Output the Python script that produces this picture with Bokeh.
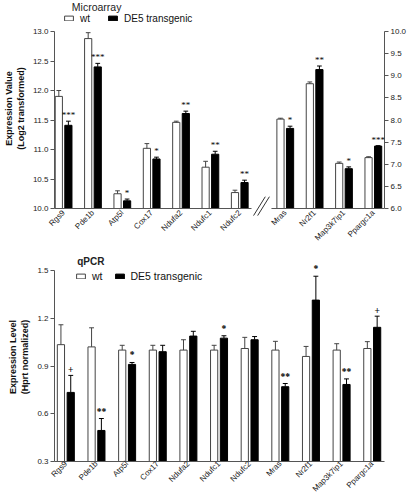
import numpy as np
from bokeh.plotting import figure
from bokeh.models import (Range1d, LinearAxis, FixedTicker, ColumnDataSource, LabelSet, Label,
                          Legend, LegendItem, Arrow, NumeralTickFormatter)
from bokeh.layouts import column
from bokeh.embed import file_html
from bokeh.resources import INLINE

# ---------------- data ----------------
ma_genes_left = ["Rgs9", "Pde1b", "Atp5l", "Cox17", "Ndufa2", "Ndufc1", "Ndufc2"]
ma_wt_left = [11.90, 12.88, 10.25, 11.02, 11.46, 10.70, 10.27]
ma_wt_left_err = [0.10, 0.10, 0.05, 0.08, 0.02, 0.10, 0.04]
ma_de5_left = [11.41, 12.40, 10.13, 10.84, 11.61, 10.92, 10.44]
ma_de5_left_err = [0.07, 0.06, 0.03, 0.03, 0.04, 0.05, 0.04]
ma_sig_left = ["***", "***", "*", "*", "**", "**", "**"]

ma_genes_right = ["Mras", "Nr2f1", "Map3k7ip1", "Ppargc1a"]
ma_wt_right = [8.02, 8.82, 7.02, 7.15]
ma_wt_right_err = [0.02, 0.04, 0.03, 0.02]
ma_de5_right = [7.81, 9.14, 6.90, 7.41]
ma_de5_right_err = [0.05, 0.08, 0.04, 0.01]
ma_sig_right = ["*", "**", "*", "***"]

qpcr_genes = ["Rgs9", "Pde1b", "Atp5l", "Cox17", "Ndufa2", "Ndufc1", "Ndufc2",
              "Mras", "Nr2f1", "Map3k7ip1", "Ppargc1a"]
qpcr_wt = [1.034, 1.02, 1.00, 1.00, 1.00, 1.00, 1.01, 1.00, 0.96, 1.00, 1.01]
qpcr_wt_err = [0.125, 0.12, 0.03, 0.03, 0.065, 0.03, 0.07, 0.055, 0.063, 0.04, 0.043]
qpcr_de5 = [0.734, 0.495, 0.91, 0.99, 1.088, 1.075, 1.065, 0.77, 1.314, 0.784, 1.143]
qpcr_de5_err = [0.107, 0.075, 0.012, 0.04, 0.03, 0.015, 0.02, 0.02, 0.15, 0.035, 0.07]
qpcr_sig = ["+", "**", "*", "", "", "*", "", "**", "*", "**", "+"]

ma_left_ticks = [10.0, 10.5, 11.0, 11.5, 12.0, 12.5, 13.0]
ma_right_ticks = [6.0, 6.5, 7.0, 7.5, 8.0, 8.5, 9.0, 9.5, 10.0]
qpcr_ticks = [0.3, 0.6, 0.9, 1.2, 1.5]

FONT = "Liberation Sans"
AX = "#555555"
TXT = "#222222"
WT_LINE = "#444444"


def style_axis(ax):
    ax.axis_line_color = AX
    ax.major_tick_line_color = AX
    ax.minor_tick_line_color = None
    ax.major_tick_out = 4
    ax.major_tick_in = 0
    ax.major_label_text_font = FONT
    ax.major_label_text_font_size = "8px"
    ax.major_label_text_color = TXT
    ax.axis_label_text_font = FONT
    ax.axis_label_text_font_style = "bold"
    ax.axis_label_text_font_size = "9px"
    ax.axis_label_text_color = "#111111"


def bars(p, xs, vals, errs, offset, width, bottom, color, line, cap, y_range_name="default"):
    x = [v + offset for v in xs]
    r = p.vbar(x=x, top=vals, bottom=bottom, width=width, fill_color=color,
               line_color=line, line_width=1, y_range_name=y_range_name)
    tops = [v + e for v, e in zip(vals, errs)]
    p.segment(x0=x, y0=vals, x1=x, y1=tops, line_color=line, line_width=1, y_range_name=y_range_name)
    p.segment(x0=[v - cap for v in x], y0=tops, x1=[v + cap for v in x], y1=tops,
              line_color=line, line_width=1, y_range_name=y_range_name)
    return r, x, tops


def legend(renderers, loc, fs, spacing):
    return Legend(items=[LegendItem(label="wt", renderers=[renderers[0]]),
                         LegendItem(label="DE5 transgenic", renderers=[renderers[1]])],
                  orientation="horizontal", location=loc, glyph_width=11, glyph_height=6,
                  label_text_font=FONT, label_text_font_size=fs, label_standoff=6, spacing=spacing,
                  padding=0, margin=0, border_line_color=None, background_fill_alpha=0,
                  label_height=8, label_width=5, label_text_color="#111111")


# ---------------- top: microarray ----------------
xl = list(range(len(ma_genes_left)))
xr = [len(ma_genes_left) + 0.55 + j for j in range(len(ma_genes_right))]
off, bw, cap = 0.163, 0.245, 0.08
ppu_l, ppu_r = 177 / 3.0, 177 / 4.0      # pixels per unit of each y scale
top_pad, bot_pad = 31, 8

p1 = figure(width=417, height=252, output_backend="svg", toolbar_location=None,
            x_range=Range1d(-0.31, 10.93),
            y_range=Range1d(10.0 - bot_pad / ppu_l, 13.0 + top_pad / ppu_l),
            min_border_left=49, min_border_top=0, min_border_bottom=36, min_border_right=23)
p1.extra_y_ranges = {"right": Range1d(6.0 - bot_pad / ppu_r, 10.0 + top_pad / ppu_r)}
p1.outline_line_color = None
p1.grid.visible = False

r_wt, xw, tw = bars(p1, xl, ma_wt_left, ma_wt_left_err, -off, bw, 10.0, "white", WT_LINE, cap)
r_de, xd, td = bars(p1, xl, ma_de5_left, ma_de5_left_err, off, bw, 10.0, "black", "black", cap)
bars(p1, xr, ma_wt_right, ma_wt_right_err, -off, bw, 6.0, "white", WT_LINE, cap, "right")
_, xd2, td2 = bars(p1, xr, ma_de5_right, ma_de5_right_err, off, bw, 6.0, "black", "black", cap, "right")

src_l = ColumnDataSource(dict(x=xd, y=td, t=ma_sig_left))
src_r = ColumnDataSource(dict(x=xd2, y=td2, t=ma_sig_right))
for s, rn in ((src_l, "default"), (src_r, "right")):
    p1.add_layout(LabelSet(x="x", y="y", text="t", source=s, y_range_name=rn, y_offset=1,
                           text_align="center", text_baseline="bottom", text_font=FONT,
                           text_font_size="9px", text_color="black"))

p1.yaxis.ticker = FixedTicker(ticks=ma_left_ticks)
p1.yaxis.formatter = NumeralTickFormatter(format="0.0")
p1.yaxis.axis_label = "Expression Value\n(Log2 transformed)"
p1.yaxis.bounds = (10.0, 13.0)
rax = LinearAxis(y_range_name="right", ticker=FixedTicker(ticks=ma_right_ticks),
                 formatter=NumeralTickFormatter(format="0.0"), bounds=(6.0, 10.0))
p1.add_layout(rax, "right")
p1.xaxis.ticker = FixedTicker(ticks=xl + xr)
p1.xaxis.major_label_overrides = {x: g for x, g in zip(xl + xr, ma_genes_left + ma_genes_right)}
p1.xaxis.major_label_orientation = np.pi / 4
for ax in p1.yaxis + p1.xaxis:
    style_axis(ax)
p1.xaxis.axis_line_color = None
p1.xaxis.major_tick_line_color = None
p1.xaxis.major_tick_out = 0
p1.xaxis.major_label_standoff = -5
p1.yaxis[0].axis_label_standoff = 4
p1.yaxis[0].major_label_standoff = 2
rax.major_label_standoff = 2

# broken x axis
seg_end = xl[-1] + 0.4
seg_start = xr[0] - 0.47
for (a, b) in ((-0.31, seg_end), (seg_start, 10.93)):
    p1.add_layout(Arrow(end=None, x_start=a, y_start=10.0, x_end=b, y_end=10.0,
                        line_color=AX, line_width=1))
mid = (seg_end + seg_start) / 2
for d in (-0.07, 0.07):
    p1.add_layout(Arrow(end=None, x_start=mid - 0.2 + d, y_start=9.88, x_end=mid + 0.2 + d,
                        y_end=10.2, line_color="#333333", line_width=1))

p1.add_layout(legend([r_wt, r_de], (9, 192.5), "10px", 17), "center")
p1.add_layout(Label(x=0.28, y=13.51, text="Microarray", text_baseline="top",
                    text_font=FONT, text_font_size="10.5px", text_color="#222222"))

# ---------------- bottom: qPCR ----------------
xq = list(range(len(qpcr_genes)))
offq, bwq, capq = 0.16, 0.235, 0.08
ppu_q = 191 / 1.2
p2 = figure(width=417, height=247, output_backend="svg", toolbar_location=None,
            x_range=Range1d(-0.37, 10.4), y_range=Range1d(0.3, 0.3 + 209 / ppu_q),
            min_border_left=49, min_border_top=0, min_border_bottom=38, min_border_right=33)
p2.outline_line_color = None
p2.grid.visible = False
q_wt, _, _ = bars(p2, xq, qpcr_wt, qpcr_wt_err, -offq, bwq, 0.3, "white", WT_LINE, capq)
q_de, xqd, tqd = bars(p2, xq, qpcr_de5, qpcr_de5_err, offq, bwq, 0.3, "black", "black", capq)
p2.add_layout(LabelSet(x="x", y="y", text="t", source=ColumnDataSource(dict(x=xqd, y=tqd, t=qpcr_sig)),
                       y_offset=2, text_align="center", text_baseline="bottom", text_font=FONT,
                       text_font_size="9.5px", text_font_style="bold", text_color="black"))
p2.yaxis.ticker = FixedTicker(ticks=qpcr_ticks)
p2.yaxis.formatter = NumeralTickFormatter(format="0.0")
p2.yaxis.axis_label = "Expression Level\n(Hprt normalized)"
p2.yaxis.bounds = (0.3, 1.5)
p2.xaxis.ticker = FixedTicker(ticks=xq)
p2.xaxis.major_label_overrides = {x: g for x, g in zip(xq, qpcr_genes)}
p2.xaxis.major_label_orientation = np.pi / 4
for ax in p2.yaxis + p2.xaxis:
    style_axis(ax)
p2.xaxis.major_tick_line_color = None
p2.xaxis.major_tick_out = 0
p2.xaxis.major_label_standoff = 1
p2.yaxis.axis_label_standoff = 4
p2.yaxis.major_label_standoff = 2

p2.add_layout(legend([q_wt, q_de], (21, 179.5), "10.5px", 11), "center")
p2.add_layout(Label(x=0.37, y=1.594, text="qPCR", text_baseline="top",
                    text_font=FONT, text_font_size="10px", text_font_style="bold", text_color="#222222"))

layout = column(p1, p2, spacing=0)
open("out.html", "w").write(file_html(layout, INLINE))
